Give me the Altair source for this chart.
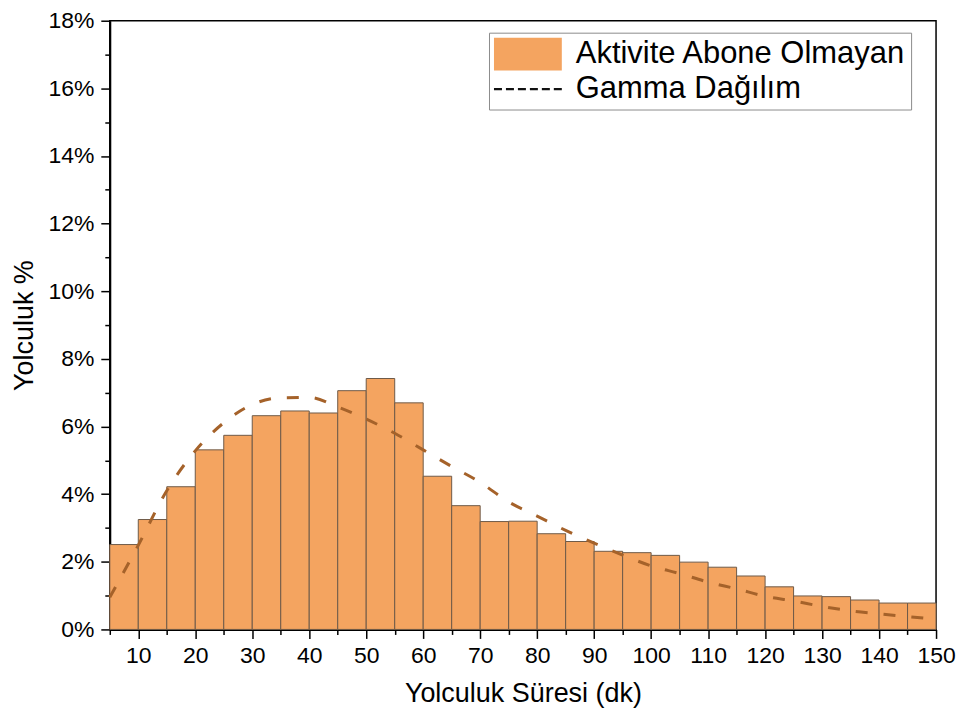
import altair as alt
import pandas as pd

# ---- data ----
bin_start = [5, 10, 15, 20, 25, 30, 35, 40, 45, 50, 55, 60, 65, 70, 75,
             80, 85, 90, 95, 100, 105, 110, 115, 120, 125, 130, 135, 140, 145]
bin_end = [10, 15, 20, 25, 30, 35, 40, 45, 50, 55, 60, 65, 70, 75, 80,
           85, 90, 95, 100, 105, 110, 115, 120, 125, 130, 135, 140, 145, 150]
trip_share = [2.51, 3.25, 4.22, 5.31, 5.74, 6.32, 6.46, 6.40, 7.06, 7.42,
              6.70, 4.53, 3.66, 3.19, 3.20, 2.83, 2.60, 2.31, 2.27, 2.19,
              1.99, 1.84, 1.58, 1.26, 0.99, 0.97, 0.87, 0.78, 0.78]

gamma_x = [5, 10, 15, 20, 25, 30, 35, 40, 45, 50, 55, 60, 65, 70, 75,
           80, 85, 90, 95, 100, 105, 110, 115, 120, 125, 130, 135, 140, 145, 150]
gamma_y = [0.95, 2.49, 4.10, 5.28, 6.11, 6.65, 6.85, 6.86, 6.58, 6.22,
           5.80, 5.31, 4.82, 4.35, 3.77, 3.35, 2.93, 2.55, 2.20, 1.88,
           1.65, 1.40, 1.20, 0.98, 0.84, 0.68, 0.55, 0.46, 0.38, 0.30]

x_major_ticks = [10, 20, 30, 40, 50, 60, 70, 80, 90, 100, 110, 120, 130, 140, 150]
x_minor_ticks = [5, 15, 25, 35, 45, 55, 65, 75, 85, 95, 105, 115, 125, 135, 145]
y_major_ticks = [0, 2, 4, 6, 8, 10, 12, 14, 16, 18]
y_minor_ticks = [1, 3, 5, 7, 9, 11, 13, 15, 17]

legend_labels = ["Aktivite Abone Olmayan", "Gamma Dağılım"]

# ---- styles ----
FONT = "Liberation Sans"
BAR_FILL = "#F4A460"
BAR_STROKE = "#6e5a48"
LINE_COLOR = "#A5622A"

# legend symbols: a wide swatch and a row of six dashes
rect_path = "M-1,-1H3.12V1H-1Z"
dash_parts = []
for k in range(6):
    x0 = -1 + 0.727 * k
    dash_parts.append(f"M{x0:.3f},-0.065H{x0 + 0.485:.3f}V0.065H{x0:.3f}Z")
dash_path = "".join(dash_parts)

bars_df = pd.DataFrame({"start": bin_start, "end": bin_end, "share": trip_share})
gamma_df = pd.DataFrame({"x": gamma_x, "y": gamma_y})
legend_df = pd.DataFrame({"series": legend_labels})

x_scale = alt.Scale(domain=[5, 150], nice=False, zero=False)
y_scale = alt.Scale(domain=[0, 18], nice=False)

PLOT_H = 610

x_axis_major = alt.Axis(
    title="Yolculuk Süresi (dk)",
    orient="bottom",
    values=x_major_ticks,
    tickSize=9,
    labelFlush=False,
    labelOverlap=False,
    labelPadding=6,
    titleY=72,
    titleBaseline="alphabetic",
)
y_axis_major = alt.Axis(
    title="Yolculuk %",
    orient="left",
    values=y_major_ticks,
    labelExpr="datum.value + '%'",
    tickSize=9,
    labelFlush=False,
    labelOverlap=False,
    labelPadding=7,
    titleX=-77,
    titleY=PLOT_H / 2,
    titleBaseline="alphabetic",
    titleAngle=-90,
)
x_axis_minor = alt.Axis(
    title=None, orient="bottom", values=x_minor_ticks, tickSize=5,
    labels=False, domain=False,
)
y_axis_minor = alt.Axis(
    title=None, orient="left", values=y_minor_ticks, tickSize=5,
    labels=False, domain=False,
)

bars = alt.Chart(bars_df).mark_bar(
    fill=BAR_FILL, stroke=BAR_STROKE, strokeWidth=1
).encode(
    x=alt.X("start:Q", scale=x_scale, axis=x_axis_major),
    x2="end:Q",
    y=alt.Y("share:Q", scale=y_scale, axis=y_axis_major),
    y2=alt.datum(0),
)

line = alt.Chart(gamma_df).mark_line(
    color=LINE_COLOR, strokeWidth=3, strokeDash=[12, 16], interpolate="monotone"
).encode(
    x=alt.X("x:Q", scale=x_scale, axis=x_axis_minor),
    y=alt.Y("y:Q", scale=y_scale, axis=y_axis_minor),
)

leg = alt.Legend(
    title=None,
    orient="none",
    legendX=380,
    legendY=12,
    symbolSize=1089,
    symbolOpacity=1,
    symbolStrokeWidth=0,
    labelFontSize=31,
    labelFont=FONT,
    labelColor="black",
    labelOffset=49,
    labelLimit=600,
    rowPadding=2,
    padding=5,
    strokeColor="#8c8c8c",
    fillColor="white",
)

legend_layer = alt.Chart(legend_df).mark_point(filled=True, opacity=0).encode(
    color=alt.Color("series:N", scale=alt.Scale(domain=legend_labels, range=[BAR_FILL, "#111111"]), legend=leg),
    shape=alt.Shape("series:N", scale=alt.Scale(domain=legend_labels, range=[rect_path, dash_path]), legend=leg),
)

chart = alt.layer(bars, line, legend_layer).resolve_axis(
    x="independent", y="independent"
).properties(
    width=828,
    height=PLOT_H,
    padding={"left": 102, "top": 12, "right": 22, "bottom": 80},
    autosize=alt.AutoSizeParams(type="none"),
).configure_view(
    stroke="black", strokeWidth=1.5
).configure_axis(
    grid=False,
    domainColor="black",
    domainWidth=2,
    tickColor="black",
    tickWidth=1.5,
    labelFont=FONT,
    labelFontSize=23,
    labelColor="black",
    titleFont=FONT,
    titleFontSize=27,
    titleFontWeight="normal",
    titleColor="black",
)

chart.save("out.html", embed_options={"renderer": "svg", "actions": False})
